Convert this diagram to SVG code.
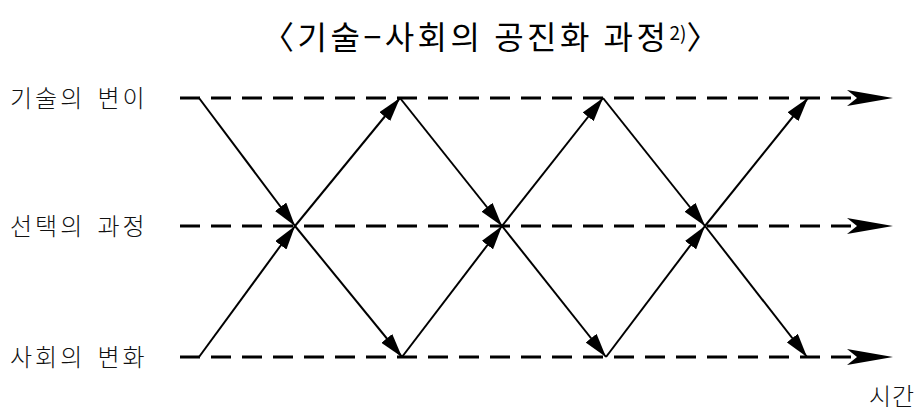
<svg xmlns="http://www.w3.org/2000/svg" width="919" height="416" viewBox="0 0 919 416">
<style>
.title{font-family:"Noto Sans CJK KR","Noto Sans",sans-serif;font-size:32px;letter-spacing:3.5px;fill:#000}
.lbl{font-family:"Noto Sans CJK KR","Noto Sans",sans-serif;font-size:24px;letter-spacing:3px;word-spacing:4px;fill:#111;font-weight:300}
.dash{stroke:#000;stroke-width:3;stroke-dasharray:20 11;fill:none}
.diag{stroke:#000;stroke-width:2;fill:none;marker-end:url(#ah)}
</style>
<defs>
<marker id="ah" markerUnits="userSpaceOnUse" markerWidth="26" markerHeight="14" refX="24" refY="7" orient="auto">
<path d="M0,0 L24,7 L0,14 Z" fill="#000"/>
</marker>
<path id="bh" d="M0,0 L-46,-8 L-36,0 L-46,8 Z" fill="#000"/>
</defs>
<rect width="919" height="416" fill="#fff"/>
<g id="title"><text class="title" x="262" y="49">〈기술−사회의 공진화 과정<tspan font-size="19" letter-spacing="0" dy="-9">2)</tspan><tspan dy="9">〉</tspan></text></g>
<g id="tech"><text class="lbl" x="10" y="107">기술의 변이</text></g>
<g id="select"><text class="lbl" x="10" y="235">선택의 과정</text></g>
<g id="society"><text class="lbl" x="10" y="366">사회의 변화</text></g>
<g id="time"><text class="lbl" x="869" y="405" style="letter-spacing:1px">시간</text></g>
<g id="connectors">
<line class="dash" x1="180" y1="98" x2="860" y2="98"/>
<line class="dash" x1="180" y1="226" x2="860" y2="226"/>
<line class="dash" x1="180" y1="357" x2="860" y2="357"/>
<use href="#bh" x="893" y="98"/>
<use href="#bh" x="893" y="226"/>
<use href="#bh" x="893" y="357"/>
<line class="diag" x1="199" y1="98" x2="295" y2="226"/>
<line class="diag" x1="199" y1="357" x2="295" y2="226"/>
<line class="diag" x1="295" y1="226" x2="400" y2="98"/>
<line class="diag" x1="295" y1="226" x2="402" y2="357"/>
<line class="diag" x1="400" y1="98" x2="502" y2="226"/>
<line class="diag" x1="402" y1="357" x2="502" y2="226"/>
<line class="diag" x1="502" y1="226" x2="603" y2="98"/>
<line class="diag" x1="502" y1="226" x2="606" y2="357"/>
<line class="diag" x1="603" y1="98" x2="705" y2="226"/>
<line class="diag" x1="606" y1="357" x2="705" y2="226"/>
<line class="diag" x1="705" y1="226" x2="808" y2="98"/>
<line class="diag" x1="705" y1="226" x2="807" y2="357"/>
</g>
</svg>
